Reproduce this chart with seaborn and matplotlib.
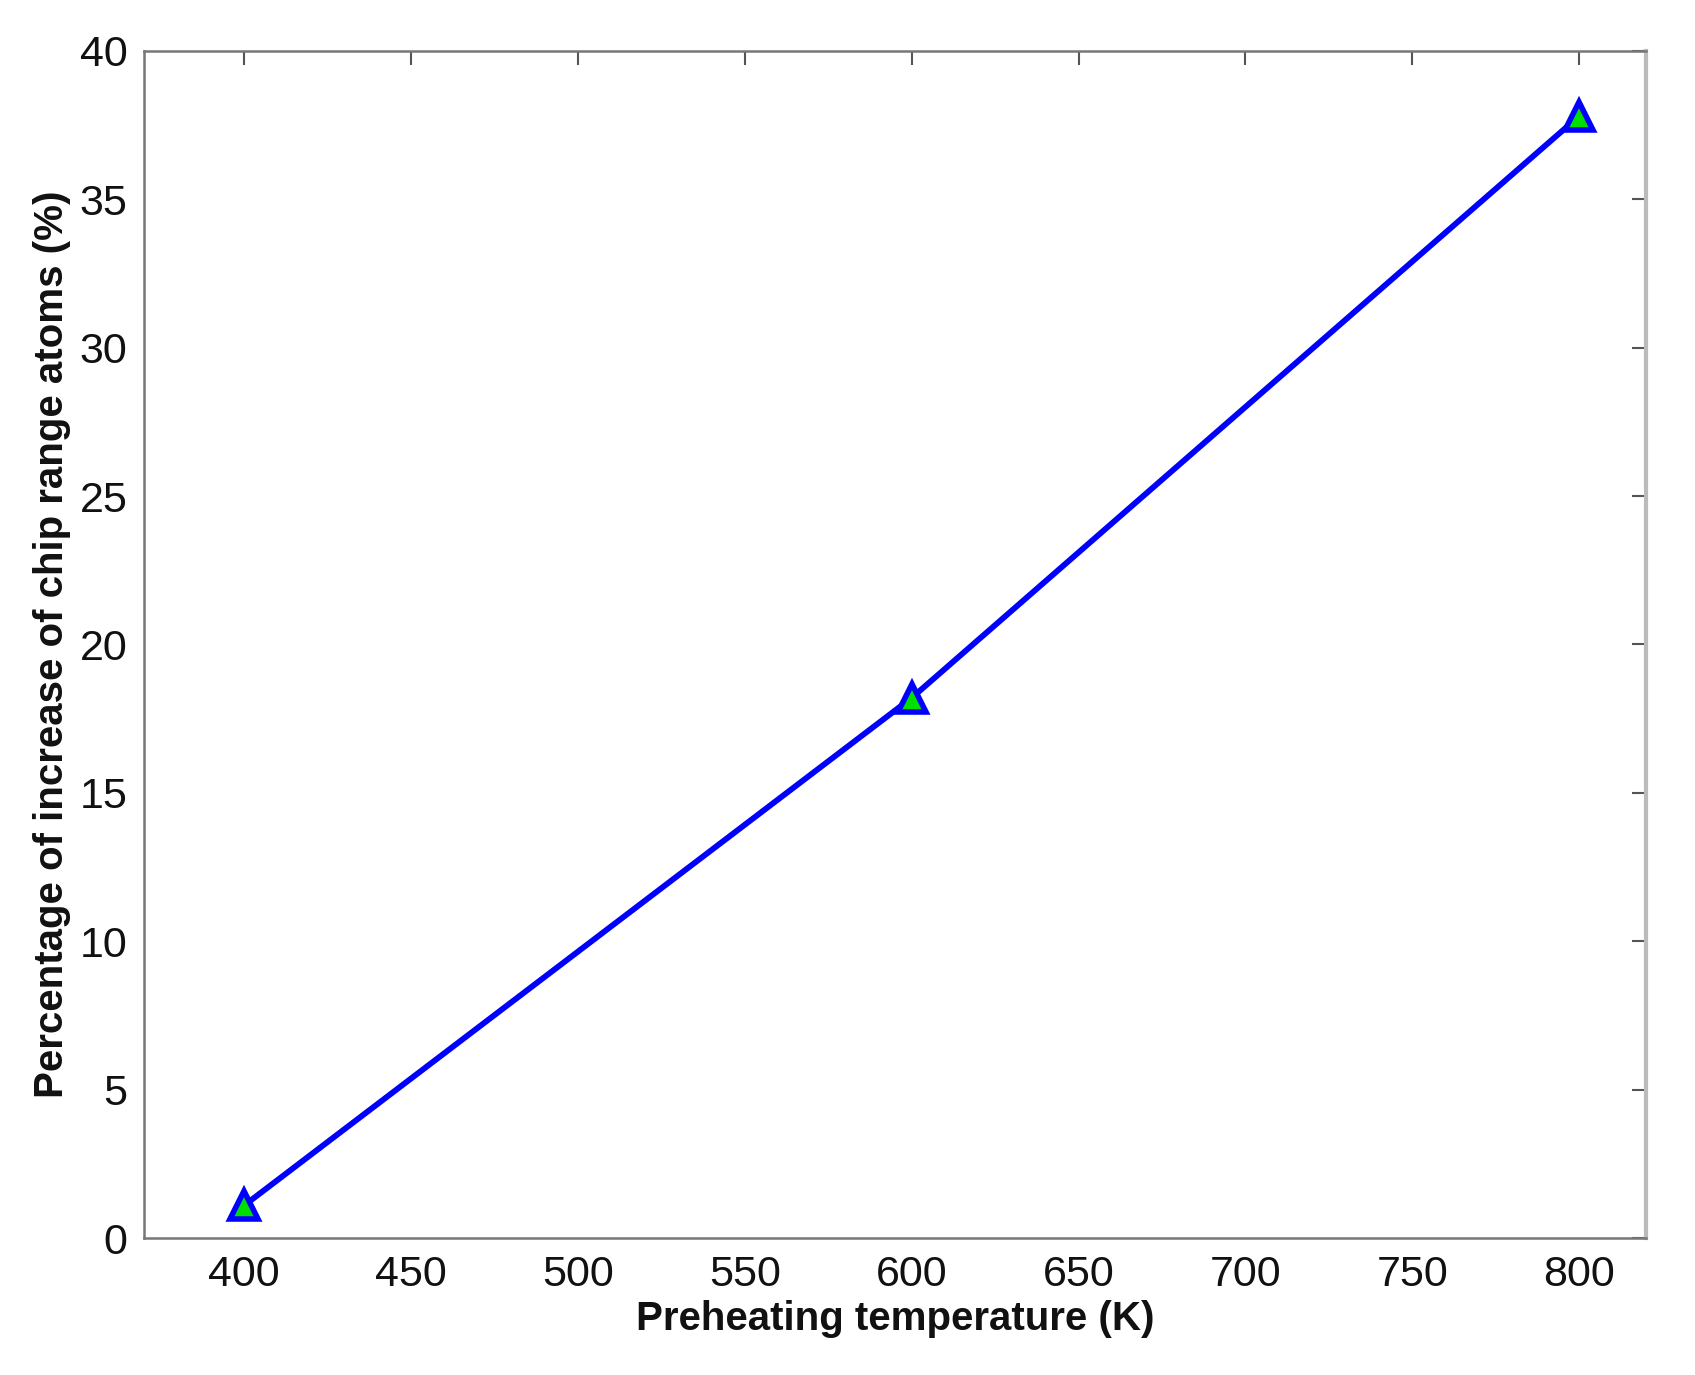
import matplotlib
matplotlib.use("Agg")
import matplotlib.pyplot as plt
import seaborn as sns
import pandas as pd

temperature = [400, 600, 800]
increase_pct = [1.1, 18.2, 37.8]
x_ticks = [400, 450, 500, 550, 600, 650, 700, 750, 800]
y_ticks = [0, 5, 10, 15, 20, 25, 30, 35, 40]

sns.set_theme(style="white")
plt.rcParams['font.family'] = ['Liberation Sans', 'DejaVu Sans']

df = pd.DataFrame({"T": temperature, "P": increase_pct})

fig = plt.figure(figsize=(16.95, 13.75), dpi=100)
ax = fig.add_axes([0.085, 0.0996, 0.886, 0.8634])

sns.lineplot(data=df, x="T", y="P", ax=ax, color="#0000ff", linewidth=4.2,
             marker="^", markersize=20, markerfacecolor="#00e000",
             markeredgecolor="#0000ff", markeredgewidth=4)

ax.set_xlim(370, 820)
ax.set_ylim(0, 40)
ax.set_xticks(x_ticks)
ax.set_yticks(y_ticks)
ax.tick_params(axis="both", which="both", direction="in", length=10, width=1.5,
               color="#555555", labelsize=31, labelcolor="#111111",
               top=True, right=True, pad=12)
for s in ax.spines.values():
    s.set_color("#777777")
    s.set_linewidth(1.8)
ax.spines["right"].set_color("#bbbbbb")
ax.spines["right"].set_linewidth(3)

ax.set_xlabel("Preheating temperature (K)", fontsize=29, fontweight="bold",
              labelpad=4, color="#111111")
ax.set_ylabel("Percentage of increase of chip range atoms (%)", fontsize=29,
              fontweight="bold", labelpad=6, color="#111111")

fig.savefig("out.png", dpi=100)
